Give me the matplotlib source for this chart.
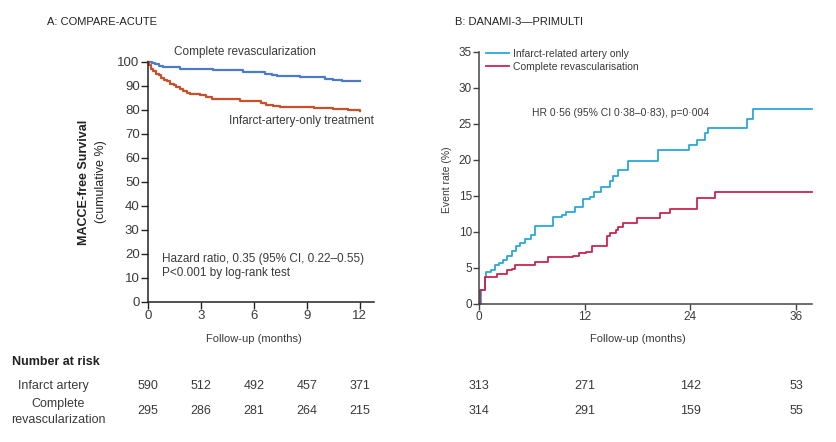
import matplotlib
matplotlib.use("Agg")
import matplotlib.pyplot as plt
from matplotlib.transforms import blended_transform_factory

# ---- data: A (COMPARE-ACUTE), MACCE-free survival %
a_months = [0, 0.08, 0.18, 0.3, 0.45, 0.6, 0.75, 0.9, 1.05, 1.23, 1.45, 1.6, 1.8, 2.0, 2.2,
            2.36, 2.93, 3.3, 3.6, 4.8, 5.2, 6.0, 6.4, 6.7, 7.1, 7.5, 8.6, 9.4, 10.5, 11.3, 11.7, 12]
a_infarct = [100, 98.6, 97.2, 96.1, 95.2, 94.4, 93.5, 92.6, 91.9, 91.0, 90.6, 89.4, 88.6, 87.9, 87.2,
             86.7, 86.4, 85.6, 84.7, 84.5, 83.9, 83.6, 82.8, 82.1, 81.7, 81.3, 81.2, 80.7, 80.4, 80.1, 79.8, 79.4]
a_months_cr = [0, 0.2, 0.4, 0.6, 0.85, 1.8, 3.7, 5.4, 6.0, 6.6, 7.0, 7.3, 8.6, 10.0, 10.5, 11.0, 12]
a_complete = [100, 99.5, 99.0, 98.4, 97.8, 97.1, 96.5, 96.0, 95.7, 95.0, 94.5, 94.0, 93.6, 93.0, 92.6, 92.2, 92.0]

# ---- data: B (DANAMI-3-PRIMULTI), event rate %
b_months_ira = [0, 0.27, 0.64, 0.83, 1.4, 1.8, 2.3, 2.7, 3.2, 3.7, 4.2, 4.6, 5.2, 5.95, 6.3,
                8.4, 9.4, 9.9, 10.9, 11.8, 12.6, 13.1, 13.9, 14.85, 15.2, 15.8, 16.9,
                20.3, 23.8, 24.7, 25.7, 26.0, 30.4, 31.1, 37.8]
b_ira = [0, 2.0, 3.8, 4.5, 4.75, 5.4, 5.7, 6.1, 6.7, 7.4, 8.1, 8.4, 9.0, 9.6, 10.85,
         12.1, 12.4, 12.8, 13.5, 14.5, 14.9, 15.6, 16.3, 17.0, 17.8, 18.6, 19.85,
         21.4, 22.1, 22.8, 23.7, 24.4, 25.6, 27.05, 27.05]
b_months_cr = [0, 0.15, 0.64, 2.0, 3.2, 3.7, 4.05, 6.3, 7.85, 10.7, 11.4, 12.2, 12.8,
               14.5, 14.85, 15.6, 15.8, 16.4, 17.9, 20.5, 21.7, 24.7, 26.8, 37.8]
b_complete = [0, 2.0, 3.8, 4.2, 4.7, 4.9, 5.4, 5.8, 6.5, 6.7, 7.1, 7.25, 8.1,
              9.4, 9.9, 10.3, 10.75, 11.2, 11.9, 12.6, 13.2, 14.7, 15.5, 15.5]

# ---- number at risk
a_risk_times = [0, 3, 6, 9, 12]
a_risk_infarct = [590, 512, 492, 457, 371]
a_risk_complete = [295, 286, 281, 264, 215]
b_risk_times = [0, 12, 24, 36]
b_risk_infarct = [313, 271, 142, 53]
b_risk_complete = [314, 291, 159, 55]

TXT = "#3a3a3a"
NARROW = ["Liberation Sans Narrow", "Liberation Sans", "DejaVu Sans"]
plt.rcParams["font.family"] = ["Liberation Sans", "DejaVu Sans"]

fig = plt.figure(figsize=(8.36, 4.42), dpi=100)

# panel titles
fig.text(47 / 836, 1 - 22 / 442, "A: COMPARE-ACUTE", fontsize=8, va="center", color="#222")
fig.text(455 / 836, 1 - 22 / 442, "B: DANAMI-3\u2014PRIMULTI", fontsize=8, va="center", color="#222")

# ---------------- panel A
axA = fig.add_axes([148 / 836, 1 - 302 / 442, 226 / 836, 240 / 442])
axA.step(a_months_cr, a_complete, where="post", color="#4a7cc9", lw=1.6, clip_on=False)
axA.step(a_months, a_infarct, where="post", color="#c8502a", lw=1.6, clip_on=False)
axA.set_xlim(0, 12.8)
axA.set_ylim(0, 100)
axA.set_xticks([0, 3, 6, 9, 12])
axA.set_yticks(range(0, 101, 10))
for s in ["top", "right"]:
    axA.spines[s].set_visible(False)
for s in ["left", "bottom"]:
    axA.spines[s].set_linewidth(1.1)
    axA.spines[s].set_color("#222")
axA.tick_params(direction="out", length=5, width=1, labelsize=9.5, colors="#222", labelcolor=TXT, pad=1)
axA.text(1.45, 101.5, "Complete revascularization", fontsize=8.5, color=TXT, va="bottom")
axA.text(12.8, 75.5, "Infarct-artery-only treatment", fontsize=8.5, color=TXT, ha="right", va="center")
axA.text(0.8, 15, "Hazard ratio, 0.35 (95% CI, 0.22\u20130.55)\nP<0.001 by log-rank test",
         fontsize=8.5, color=TXT, va="center", linespacing=1.3)
fig.text(84 / 836, 1 - 182 / 442, "MACCE-free Survival", rotation=90, fontsize=9, fontweight="bold",
         color="#222", ha="center", va="center")
fig.text(101 / 836, 1 - 182 / 442, "(cumulative %)", rotation=90, fontsize=9,
         color="#222", ha="center", va="center")

# ---------------- panel B
axB = fig.add_axes([479 / 836, 1 - 304 / 442, 333 / 836, (304 - 51.7) / 442])
axB.step(b_months_ira, b_ira, where="post", color="#2aa8d8", lw=1.3, clip_on=False,
         label="Infarct-related artery only")
axB.step(b_months_cr, b_complete, where="post", color="#c8254f", lw=1.3, clip_on=False,
         label="Complete revascularisation")
axB.set_xlim(0, 37.8)
axB.set_ylim(0, 35)
axB.set_xticks([0, 12, 24, 36])
axB.set_yticks(range(0, 36, 5))
for s in ["top", "right"]:
    axB.spines[s].set_visible(False)
for s in ["left", "bottom"]:
    axB.spines[s].set_linewidth(1.1)
    axB.spines[s].set_color("#444")
axB.tick_params(direction="out", length=4, width=1, labelsize=8.5, colors="#444", labelcolor=TXT, pad=1)
for lab in axB.get_xticklabels() + axB.get_yticklabels():
    lab.set_family(NARROW)
leg = axB.legend(loc="upper left", bbox_to_anchor=(0.0, 1.04), frameon=False, fontsize=7.5,
                 handlelength=2.2, handletextpad=0.4, labelspacing=0.3, borderaxespad=0.3)
for t in leg.get_texts():
    t.set_color(TXT)
    t.set_family(NARROW)
axB.text(6.0, 26.5, "HR 0\u00b756 (95% CI 0\u00b738\u20130\u00b783), p=0\u00b7004", fontsize=7.5,
         color=TXT, va="center", family=NARROW)
fig.text(447 / 836, 1 - 180 / 442, "Event rate (%)", rotation=90, fontsize=7.5, color=TXT,
         ha="center", va="center", family=NARROW)

# x labels
trA = blended_transform_factory(axA.transData, fig.transFigure)
trB = blended_transform_factory(axB.transData, fig.transFigure)
axA.text(6, 1 - 339 / 442, "Follow-up (months)", transform=trA, ha="center", va="center",
         fontsize=8, color=TXT, family=NARROW)
axB.text(18, 1 - 339 / 442, "Follow-up (months)", transform=trB, ha="center", va="center",
         fontsize=8, color=TXT, family=NARROW)

# number at risk table
fig.text(12 / 836, 1 - 362 / 442, "Number at risk", fontsize=9, fontweight="bold", color="#222",
         va="center", family=NARROW)
fig.text(18 / 836, 1 - 386 / 442, "Infarct artery", fontsize=9, color=TXT, va="center", family=NARROW)
fig.text(58 / 836, 1 - 412 / 442, "Complete\nrevascularization", fontsize=9, color=TXT,
         va="center", ha="center", family=NARROW, linespacing=1.35)
for t, v1, v2 in zip(a_risk_times, a_risk_infarct, a_risk_complete):
    axA.text(t, 1 - 386 / 442, str(v1), transform=trA, ha="center", va="center", fontsize=9,
             color=TXT, family=NARROW)
    axA.text(t, 1 - 411 / 442, str(v2), transform=trA, ha="center", va="center", fontsize=9,
             color=TXT, family=NARROW)
for t, v1, v2 in zip(b_risk_times, b_risk_infarct, b_risk_complete):
    axB.text(t, 1 - 386 / 442, str(v1), transform=trB, ha="center", va="center", fontsize=9,
             color=TXT, family=NARROW)
    axB.text(t, 1 - 411 / 442, str(v2), transform=trB, ha="center", va="center", fontsize=9,
             color=TXT, family=NARROW)

fig.savefig("out.png", dpi=100)
